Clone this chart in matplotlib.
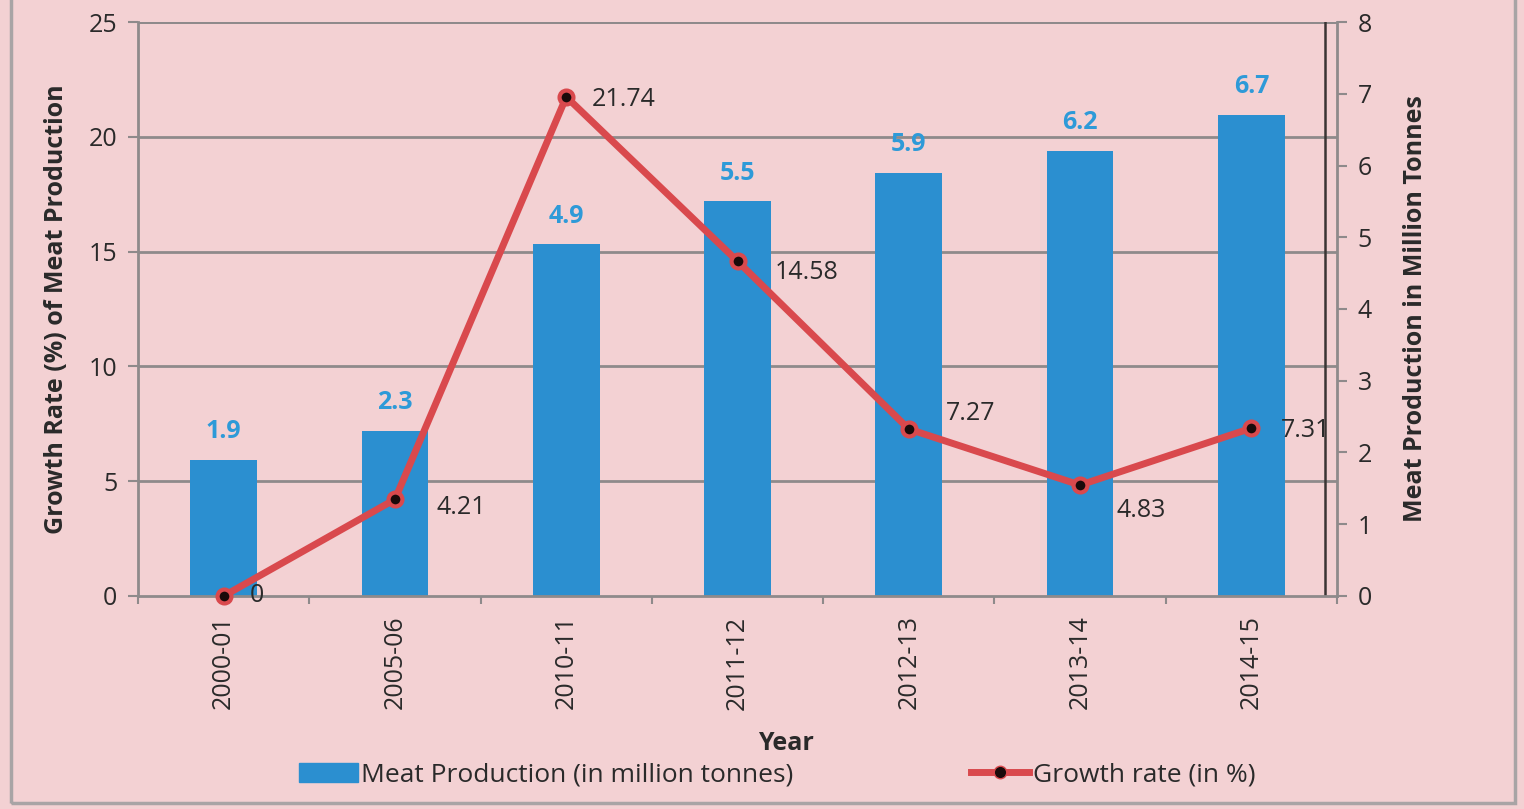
import matplotlib.pyplot as plt
from matplotlib.lines import Line2D
from matplotlib.patches import Patch, Rectangle

# Data
years = ["2000-01", "2005-06", "2010-11", "2011-12", "2012-13", "2013-14", "2014-15"]
production = [1.9, 2.3, 4.9, 5.5, 5.9, 6.2, 6.7]
growth = [0, 4.21, 21.74, 14.58, 7.27, 4.83, 7.31]
growth_labels = ["0", "4.21", "21.74", "14.58", "7.27", "4.83", "7.31"]

# Style
BG = "#F3D1D3"
BLUE = "#2B8FD0"
RED = "#D9494D"
GRID = "#8E8A8B"
TXT = "#2A2A2A"
FS = 18
label_offsets = [(19, 0), (30, -6), (18, -2), (27, -8), (27, 11), (26, -18), (21, -2)]

plt.rcParams["font.family"] = ["Open Sans", "DejaVu Sans"]

fig = plt.figure(figsize=(15.24, 8.09), dpi=100, facecolor=BG)
fig.patches.append(Rectangle((0.007, 0.008), 0.987, 1.0, transform=fig.transFigure,
                             fill=False, edgecolor="#A8A4A5", lw=2.5))

ax = fig.add_axes([0.0906, 0.2633, 0.7867, 0.7095])
ax.set_facecolor("none")
ax2 = ax.twinx()
ax.set_zorder(ax2.get_zorder() + 1)

x = list(range(len(years)))

# bars on secondary axis
ax2.bar(x, production, width=0.39, color=BLUE, zorder=2)
for xi, v in zip(x, production):
    ax2.text(xi, v + 0.22, f"{v}", ha="center", va="bottom", color="#2E9AD8",
             fontsize=FS, fontweight="bold")
ax2.set_ylim(0, 8)
ax2.set_yticks(range(0, 9))
ax2.tick_params(axis="y", labelsize=FS, colors=GRID, labelcolor=TXT, length=7, width=1.5, pad=8)
ax2.set_ylabel("Meat Production in Million Tonnes", fontsize=FS, fontweight="bold",
               color=TXT, labelpad=22)

# grid on primary axis
ax.set_ylim(0, 25)
ax.set_yticks(range(0, 26, 5))
ax.set_xlim(-0.5, 6.5)
ax2.set_xlim(-0.5, 6.5)
for yv in range(5, 26, 5):
    ax2.axhline(yv / 25 * 8, color=GRID, lw=2, zorder=1)
ax.axvline(6.43, color="#3A3434", lw=1.8, zorder=1)

ax.plot(x, growth, color=RED, lw=5, marker="o", markersize=10, markerfacecolor="#1A0A0A",
        markeredgecolor=RED, markeredgewidth=3, zorder=5, clip_on=False)
for xi, v, lab, off in zip(x, growth, growth_labels, label_offsets):
    ax.annotate(lab, (xi, v), xytext=off, textcoords="offset points", ha="left",
                va="center", fontsize=FS, color=TXT, zorder=6)

ax.tick_params(axis="y", labelsize=FS, colors=GRID, labelcolor=TXT, length=7, width=1.5, pad=8)
ax.set_ylabel("Growth Rate (%) of Meat Production", fontsize=FS, fontweight="bold",
              color=TXT, labelpad=14)
ax.set_xticks(x)
ax.set_xticklabels(years, rotation=90, fontsize=FS, color=TXT)
ax.set_xticks([i + 0.5 for i in range(-1, 7)], minor=True)
ax.tick_params(axis="x", which="major", length=0, pad=14)
ax.tick_params(axis="x", which="minor", length=6, width=1.5, colors=GRID)
ax.set_xlabel("Year", fontsize=FS, fontweight="bold", color=TXT)
ax.xaxis.set_label_coords(0.54, -0.235)
ax2.tick_params(axis="x", length=0)

for a in (ax, ax2):
    a.spines["top"].set_visible(False)
    for s in ("left", "right", "bottom"):
        a.spines[s].set_color(GRID)
        a.spines[s].set_linewidth(2)
ax.spines["right"].set_visible(False)
ax2.spines["left"].set_visible(False)
ax2.spines["bottom"].set_visible(False)
ax2.axhline(8, color=GRID, lw=2, zorder=1)

handles = [Patch(color=BLUE, label="Meat Production (in million tonnes)"),
           Line2D([], [], color=RED, lw=5, marker="o", markersize=9, markerfacecolor="#1A0A0A",
                  markeredgecolor=RED, label="Growth rate (in %)")]
fig.legend(handles=handles, loc="center", bbox_to_anchor=(0.51, 0.042), ncol=2, frameon=False,
           fontsize=19, columnspacing=6.7, handlelength=2.2, handletextpad=0.15,
           labelcolor=TXT)

fig.savefig("out.png", dpi=100, facecolor=BG)
